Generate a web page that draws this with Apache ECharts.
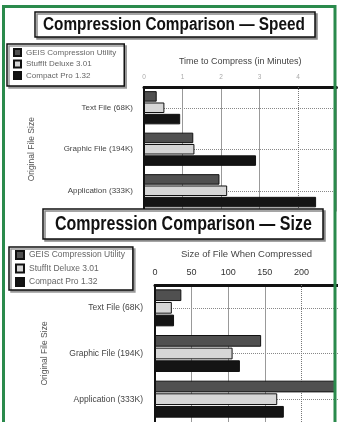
<!DOCTYPE html>
<html>
<head>
<meta charset="utf-8">
<title>Compression Comparison</title>
<script src="https://cdn.jsdelivr.net/npm/echarts@6/dist/echarts.min.js"></script>
<style>
  html, body { margin: 0; padding: 0; background: #fff; }
  #charts { width: 338px; height: 422px; }
</style>
</head>
<body>
<div id="charts"></div>
<script>
// series + categories
var seriesNames = ['GEIS Compression Utility', 'StuffIt Deluxe 3.01', 'Compact Pro 1.32'];
var fileTypes = ['Text File (68K)', 'Graphic File (194K)', 'Application (333K)'];
var titles = ['Compression Comparison \u2014 Speed', 'Compression Comparison \u2014 Size'];

// time to compress (minutes)
var speedGeis = [0.33, 1.28, 1.96];
var speedStuffit = [0.53, 1.31, 2.16];
var speedCompact = [0.94, 2.91, 4.47];

// size of file when compressed
var sizeGeis = [36, 145, 246];
var sizeStuffit = [23, 106, 167];
var sizeCompact = [26, 116, 176];

// tick settings
var speedTicks = { min: 0, max: 5, interval: 1, dotted: 4 };
var sizeTicks = { min: 0, max: 250, interval: 50, dotted: 200 };

var font = 'Liberation Sans';
var barColors = ['#505050', '#d6d6d6', '#141414'];

function bars(values, i, gridIdx, ticks) {
    var s = {
        name: seriesNames[i],
        type: 'bar',
        xAxisIndex: gridIdx,
        yAxisIndex: gridIdx,
        data: values,
        barCategoryGap: gridIdx === 0 ? '20%' : '19%',
        barGap: '8%',
        itemStyle: { color: barColors[i], borderColor: '#111', borderWidth: 1 }
    };
    if (i === 1) {
        // dotted gridline at the last visible tick
        s.markLine = {
            silent: true, symbol: 'none', z: 1,
            label: { show: false },
            lineStyle: { type: 'dotted', color: '#777', width: 1 },
            data: [{ xAxis: ticks.dotted }]
        };
    }
    return s;
}

function legend(top, left, fs, lh, gap, pad, iw) {
    return {
        data: seriesNames,
        orient: 'vertical',
        icon: 'rect',
        left: left, top: top,
        padding: pad,
        itemWidth: iw, itemHeight: iw,
        itemGap: gap,
        borderColor: '#111', borderWidth: 1.5,
        backgroundColor: '#fff',
        shadowColor: '#999', shadowOffsetX: 2, shadowOffsetY: 2, shadowBlur: 0,
        textStyle: { fontFamily: font, fontSize: fs, lineHeight: lh, color: '#666' }
    };
}

// boxed title, text squeezed a bit to look like the condensed original
function titleBox(text, x, y, w, h, fs, tx, sx) {
    return {
        type: 'group', z: 50,
        children: [{
            type: 'rect', z: 50,
            shape: { x: x, y: y, width: w, height: h },
            style: { fill: '#fff', stroke: '#111', lineWidth: 1.5,
                     shadowColor: '#888', shadowOffsetX: 2, shadowOffsetY: 2, shadowBlur: 0 }
        }, {
            type: 'text', z: 51,
            x: tx, y: y + h / 2 + 0.5, scaleX: sx,
            style: { text: text, fill: '#111', font: 'bold ' + fs + 'px "Liberation Sans"',
                     textAlign: 'left', textVerticalAlign: 'middle' }
        }]
    };
}

function xAxis(gridIdx, ticks, name, gap, labelStyle) {
    return {
        type: 'value', gridIndex: gridIdx, position: 'top',
        min: ticks.min, max: ticks.max, interval: ticks.interval,
        name: name, nameLocation: 'middle', nameGap: gap,
        nameTextStyle: { fontFamily: font, fontSize: gridIdx === 0 ? 9 : 9.5, color: '#444' },
        axisLine: { show: true, lineStyle: { color: '#111', width: 3 } },
        axisTick: { show: false },
        axisLabel: labelStyle,
        splitLine: { show: true, lineStyle: { color: ['#999', '#999', '#999', '#999', 'transparent', '#999'], width: 1 } }
    };
}

function yAxis(gridIdx, gap, fs, margin) {
    return {
        type: 'category', gridIndex: gridIdx, data: fileTypes, inverse: true,
        name: 'Original File Size', nameLocation: 'middle', nameGap: gap, nameRotate: 90,
        nameTextStyle: { fontFamily: font, fontSize: 8.5, color: '#555' },
        axisLine: { lineStyle: { color: '#111', width: 2 } },
        axisTick: { alignWithLabel: true, length: 6, lineStyle: { color: '#333' } },
        axisLabel: { fontFamily: font, fontSize: fs, color: '#444', margin: margin },
        splitLine: { show: true, alignWithLabel: true, lineStyle: { type: 'dotted', color: '#888' } }
    };
}

var myChart = echarts.init(document.getElementById('charts'));

var option = {
    animation: false,
    backgroundColor: '#fff',
    textStyle: { fontFamily: font },
    legend: [
        legend(44, 7, 8, 9, 2.5, [4, 8, 6, 6], 7),
        legend(247, 9, 8.5, 10, 3.5, [3, 8, 3, 6], 8)
    ],
    grid: [
        { left: 144, top: 87, width: 192.5, height: 124.5 },
        { left: 155, top: 285, width: 191.25, height: 141 }
    ],
    xAxis: [
        xAxis(0, speedTicks, 'Time to Compress (in Minutes)', 21,
            { fontFamily: font, fontSize: 6.5, color: '#aaa', margin: 6, showMaxLabel: false }),
        xAxis(1, sizeTicks, 'Size of File When Compressed', 26,
            { fontFamily: font, fontSize: 9, color: '#333', margin: 8, showMaxLabel: false })
    ],
    yAxis: [
        yAxis(0, 108, 8, 11),
        yAxis(1, 106, 8.5, 12)
    ],
    graphic: {
        elements: [
            titleBox(titles[0], 35, 12, 280, 25, 18, 43, 0.853),
            titleBox(titles[1], 43, 209, 280, 30, 19.5, 55, 0.82),
            {
                type: 'rect', z: 100, silent: true,
                shape: { x: 3.5, y: 6.5, width: 331.5, height: 500 },
                style: { fill: 'none', stroke: '#2a8a4c', lineWidth: 3 }
            }
        ]
    },
    series: [
        bars(speedGeis, 0, 0, speedTicks),
        bars(speedStuffit, 1, 0, speedTicks),
        bars(speedCompact, 2, 0, speedTicks),
        bars(sizeGeis, 0, 1, sizeTicks),
        bars(sizeStuffit, 1, 1, sizeTicks),
        bars(sizeCompact, 2, 1, sizeTicks)
    ]
};

myChart.setOption(option);
</script>
</body>
</html>
